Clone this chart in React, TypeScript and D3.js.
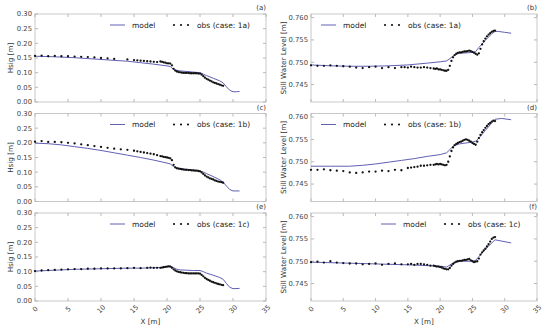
import React, { useEffect, useRef } from 'react';
import * as d3 from 'd3';

const X_TICKS = [0, 5, 10, 15, 20, 25, 30, 35];
const HSIG_TICKS = [0, 0.05, 0.1, 0.15, 0.2, 0.25, 0.3];
const SWL_TICKS = [0.745, 0.75, 0.755, 0.76];
const CASES = ['1a', '1b', '1c'];
const PANEL_TAGS = [['(a)', '(b)'], ['(c)', '(d)'], ['(e)', '(f)']];

// dense gauge section shared by every obs series
const DENSE_X = [19, 19.25, 19.5, 19.75, 20, 20.25, 20.5, 20.75, 21, 21.25, 21.5, 21.75, 22, 22.25, 22.5, 22.75, 23, 23.25, 23.5, 23.75, 24, 24.25, 24.5, 24.75, 25, 25.25, 25.5, 25.75, 26, 26.25, 26.5, 26.75, 27, 27.25, 27.5, 27.75, 28, 28.25, 28.5];

// ---- Hsig ----
const MODEL_HSIG_1A: [number, number][] = [[0, 0.156], [2, 0.155], [4, 0.153], [6, 0.151], [8, 0.148], [10, 0.145], [12, 0.142], [14, 0.139], [16, 0.134], [18, 0.129], [20, 0.123], [20.5, 0.121], [21, 0.111], [21.5, 0.108], [22, 0.106], [23, 0.104], [24, 0.102], [25, 0.1], [25.5, 0.095], [26, 0.09], [27, 0.081], [28, 0.072], [28.5, 0.065], [29, 0.052], [29.5, 0.04], [30, 0.035], [30.5, 0.035], [31, 0.036]];
const OBS_HSIG_1A: [number, number][] = [[0, 0.157], [1, 0.158], [2, 0.156], [3, 0.157], [4, 0.156], [5, 0.156], [6, 0.155], [7, 0.154], [8, 0.153], [9, 0.152], [10, 0.15], [11, 0.149], [12, 0.147], [14, 0.145], [15, 0.143], [15.5, 0.142], [16, 0.141], [16.5, 0.14], [17, 0.139], [17.5, 0.138], [18, 0.137], [18.5, 0.136]];
const DENSE_HSIG_1A = [0.138, 0.137, 0.135, 0.134, 0.132, 0.132, 0.131, 0.125, 0.113, 0.107, 0.104, 0.102, 0.101, 0.1, 0.099, 0.099, 0.099, 0.099, 0.098, 0.098, 0.098, 0.098, 0.098, 0.097, 0.097, 0.093, 0.088, 0.083, 0.079, 0.076, 0.073, 0.07, 0.067, 0.065, 0.063, 0.061, 0.059, 0.057, 0.055];

const MODEL_HSIG_1B: [number, number][] = [[0, 0.199], [2, 0.197], [4, 0.193], [6, 0.187], [8, 0.181], [10, 0.174], [12, 0.166], [14, 0.158], [16, 0.15], [18, 0.141], [20, 0.131], [20.5, 0.128], [21, 0.119], [21.5, 0.115], [22, 0.112], [23, 0.11], [24, 0.107], [25, 0.104], [25.5, 0.1], [26, 0.095], [27, 0.085], [28, 0.074], [28.5, 0.066], [29, 0.053], [29.5, 0.041], [30, 0.036], [31, 0.036]];
const OBS_HSIG_1B: [number, number][] = [[0, 0.204], [1, 0.206], [2, 0.203], [3, 0.203], [4, 0.202], [5, 0.2], [6, 0.198], [7, 0.195], [8, 0.192], [9, 0.189], [10, 0.186], [11, 0.183], [12, 0.18], [13, 0.178], [14, 0.176], [15, 0.173], [15.5, 0.171], [16, 0.169], [16.5, 0.167], [17, 0.165], [17.5, 0.163], [18, 0.161], [18.5, 0.158]];
const DENSE_HSIG_1B = [0.155, 0.154, 0.152, 0.151, 0.15, 0.149, 0.147, 0.141, 0.125, 0.116, 0.113, 0.112, 0.111, 0.11, 0.109, 0.108, 0.108, 0.107, 0.107, 0.106, 0.106, 0.105, 0.105, 0.104, 0.103, 0.099, 0.094, 0.089, 0.085, 0.082, 0.079, 0.077, 0.075, 0.072, 0.07, 0.068, 0.067, 0.066, 0.064];

const MODEL_HSIG_1C: [number, number][] = [[0, 0.102], [2, 0.104], [4, 0.106], [6, 0.108], [8, 0.109], [10, 0.11], [12, 0.111], [14, 0.112], [16, 0.112], [18, 0.113], [19, 0.114], [20, 0.118], [20.5, 0.119], [21, 0.114], [21.5, 0.108], [22, 0.106], [23, 0.105], [24, 0.104], [25, 0.104], [25.5, 0.1], [26, 0.095], [27, 0.088], [28, 0.08], [28.5, 0.074], [29, 0.06], [29.5, 0.047], [30, 0.042], [31, 0.043]];
const OBS_HSIG_1C: [number, number][] = [[0, 0.102], [1, 0.104], [2, 0.105], [3, 0.106], [4, 0.107], [5, 0.108], [6, 0.109], [7, 0.109], [8, 0.11], [9, 0.11], [10, 0.111], [11, 0.111], [12, 0.111], [13, 0.111], [14, 0.112], [15, 0.113], [16, 0.112], [17, 0.113], [17.5, 0.114], [18, 0.113], [18.5, 0.113]];
const DENSE_HSIG_1C = [0.113, 0.114, 0.115, 0.116, 0.117, 0.118, 0.117, 0.113, 0.108, 0.104, 0.101, 0.099, 0.098, 0.097, 0.096, 0.095, 0.095, 0.094, 0.094, 0.094, 0.094, 0.094, 0.094, 0.094, 0.093, 0.089, 0.084, 0.079, 0.075, 0.072, 0.069, 0.066, 0.064, 0.062, 0.06, 0.058, 0.057, 0.055, 0.054];

// ---- Still water level ----
const MODEL_SWL_1A: [number, number][] = [[0, 0.7494], [3, 0.7492], [6, 0.7491], [9, 0.7491], [12, 0.7492], [15, 0.7494], [18, 0.7498], [20, 0.7501], [21, 0.7503], [21.5, 0.7508], [22, 0.7514], [22.5, 0.7518], [23, 0.752], [24, 0.7521], [25, 0.7522], [25.5, 0.7524], [26, 0.7533], [27, 0.7549], [28, 0.7564], [28.5, 0.7569], [29, 0.7569], [30, 0.7567], [31, 0.7565]];
const OBS_SWL_1A: [number, number][] = [[0, 0.7493], [1, 0.7492], [2, 0.7492], [3, 0.7493], [4, 0.7492], [5, 0.7491], [6, 0.749], [7, 0.7488], [8, 0.7487], [9, 0.7489], [10, 0.749], [11, 0.7487], [12, 0.7489], [13, 0.7487], [14, 0.7489], [14.5, 0.7489], [15, 0.7488], [15.5, 0.749], [16, 0.7489], [16.5, 0.7488], [17, 0.7488], [17.5, 0.7489], [18, 0.7488], [18.5, 0.7487]];
const DENSE_SWL_1A = [0.7486, 0.7485, 0.7486, 0.7484, 0.7484, 0.7483, 0.7482, 0.7481, 0.7481, 0.7483, 0.7492, 0.7503, 0.7511, 0.7516, 0.7519, 0.7521, 0.7522, 0.7522, 0.7523, 0.7524, 0.7524, 0.7525, 0.7526, 0.7525, 0.7523, 0.7521, 0.7519, 0.7517, 0.752, 0.753, 0.754, 0.7547, 0.7553, 0.7558, 0.7562, 0.7565, 0.7568, 0.757, 0.7571];

const MODEL_SWL_1B: [number, number][] = [[0, 0.749], [3, 0.749], [6, 0.749], [8, 0.7492], [10, 0.7495], [12, 0.7499], [14, 0.7503], [16, 0.7507], [18, 0.7512], [20, 0.7516], [21, 0.752], [21.5, 0.7527], [22, 0.7535], [23, 0.754], [24, 0.7542], [25, 0.7544], [25.5, 0.7546], [26, 0.7553], [27, 0.757], [28, 0.7587], [28.5, 0.7595], [29.5, 0.7597], [31, 0.7594]];
const OBS_SWL_1B: [number, number][] = [[0, 0.7482], [1, 0.7482], [2, 0.7483], [3, 0.7481], [4, 0.748], [5, 0.7479], [6, 0.7476], [7, 0.7475], [8, 0.7476], [9, 0.7478], [10, 0.7478], [11, 0.748], [12, 0.7479], [13, 0.7482], [14, 0.7481], [15, 0.7486], [15.5, 0.7487], [16, 0.7488], [16.5, 0.7489], [17, 0.7491], [17.5, 0.7491], [18, 0.7492], [18.5, 0.7493]];
const DENSE_SWL_1B = [0.7493, 0.7494, 0.7495, 0.7494, 0.7495, 0.7494, 0.7493, 0.7492, 0.7493, 0.75, 0.7512, 0.7524, 0.7532, 0.7537, 0.754, 0.7542, 0.7544, 0.7545, 0.7547, 0.7549, 0.755, 0.7549, 0.7547, 0.7545, 0.7542, 0.754, 0.7538, 0.7545, 0.7553, 0.756, 0.7566, 0.7571, 0.7576, 0.758, 0.7584, 0.7587, 0.759, 0.7592, 0.7591];

const MODEL_SWL_1C: [number, number][] = [[0, 0.7498], [5, 0.7496], [10, 0.7494], [15, 0.7492], [20, 0.7489], [21, 0.7487], [22, 0.7496], [23, 0.75], [25, 0.75], [25.5, 0.7502], [27, 0.7527], [28.5, 0.7548], [31, 0.7541]];
const OBS_SWL_1C: [number, number][] = [[0, 0.7498], [1, 0.7499], [2, 0.7497], [3, 0.75], [4, 0.7497], [5, 0.7496], [6, 0.7495], [7, 0.7495], [8, 0.7493], [9, 0.7494], [10, 0.7495], [11, 0.7492], [12, 0.7494], [13, 0.7495], [14, 0.7493], [15, 0.7493], [15.5, 0.7494], [16, 0.7492], [16.5, 0.7494], [17, 0.7494], [17.5, 0.7493], [18, 0.7492], [18.5, 0.749]];
const DENSE_SWL_1C = [0.749, 0.7489, 0.7488, 0.7488, 0.7487, 0.7486, 0.7484, 0.7483, 0.7482, 0.7482, 0.7485, 0.749, 0.7494, 0.7497, 0.7499, 0.75, 0.7501, 0.7501, 0.7502, 0.7503, 0.7503, 0.7504, 0.7505, 0.7502, 0.75, 0.7498, 0.7499, 0.75, 0.7506, 0.7515, 0.752, 0.7524, 0.7528, 0.7533, 0.7538, 0.7544, 0.755, 0.7553, 0.7554];

const MODEL_COLOR = '#6060b4';
const FONT = 'DejaVu Sans, sans-serif';

export default function App() {
  const svgRef = useRef<SVGSVGElement>(null);

  useEffect(() => {
    const width = 550;
    const height = 329;
    const svg = d3.select(svgRef.current).attr('width', width).attr('height', height);
    svg.selectAll('*').remove();
    svg.append('rect').attr('width', width).attr('height', height).attr('fill', '#fff');

    const rowTops = [14, 113.5, 213];
    const rowH = 88;
    const cols = [
      { left: 35, right: 266 },
      { left: 311, right: 537 },
    ];

    const hsig = [
      [MODEL_HSIG_1A, OBS_HSIG_1A, DENSE_HSIG_1A],
      [MODEL_HSIG_1B, OBS_HSIG_1B, DENSE_HSIG_1B],
      [MODEL_HSIG_1C, OBS_HSIG_1C, DENSE_HSIG_1C],
    ];
    const swl = [
      [MODEL_SWL_1A, OBS_SWL_1A, DENSE_SWL_1A],
      [MODEL_SWL_1B, OBS_SWL_1B, DENSE_SWL_1B],
      [MODEL_SWL_1C, OBS_SWL_1C, DENSE_SWL_1C],
    ];

    for (let row = 0; row < 3; row++) {
      for (let col = 0; col < 2; col++) {
        const { left, right } = cols[col];
        const top = rowTops[row];
        const bottom = top + rowH;
        const x = d3.scaleLinear().domain([0, 35]).range([left, right]);
        const y = col === 0
          ? d3.scaleLinear().domain([0, 0.3]).range([bottom, top])
          : d3.scaleLinear().domain([0.7411, 0.7608]).range([bottom, top]);
        const yTicks = col === 0 ? HSIG_TICKS : SWL_TICKS;
        const fmt = col === 0 ? d3.format('.2f') : d3.format('.3f');
        const [model, sparse, dense] = (col === 0 ? hsig : swl)[row] as [[number, number][], [number, number][], number[]];

        const g = svg.append('g');

        // ticks pointing inwards on all four sides
        const tickColor = '#999';
        X_TICKS.forEach(t => {
          g.append('line').attr('x1', x(t)).attr('x2', x(t)).attr('y1', bottom).attr('y2', bottom - 3).attr('stroke', tickColor).attr('stroke-width', 0.7);
          g.append('line').attr('x1', x(t)).attr('x2', x(t)).attr('y1', top).attr('y2', top + 3).attr('stroke', tickColor).attr('stroke-width', 0.7);
        });
        yTicks.forEach(t => {
          g.append('line').attr('x1', left).attr('x2', left + 3).attr('y1', y(t)).attr('y2', y(t)).attr('stroke', tickColor).attr('stroke-width', 0.7);
          g.append('line').attr('x1', right).attr('x2', right - 3).attr('y1', y(t)).attr('y2', y(t)).attr('stroke', tickColor).attr('stroke-width', 0.7);
          g.append('text')
            .attr('x', left - 3).attr('y', y(t)).attr('dy', '0.35em')
            .attr('text-anchor', 'end')
            .style('font-family', FONT).style('font-size', '6.8px').attr('fill', '#444')
            .text(fmt(t));
        });

        g.append('rect')
          .attr('x', left).attr('y', top).attr('width', right - left).attr('height', rowH)
          .attr('fill', 'none').attr('stroke', '#bbb').attr('stroke-width', 0.8);

        if (row === 2) {
          X_TICKS.forEach(t => {
            g.append('text')
              .attr('transform', `translate(${x(t)},${bottom + 8}) rotate(-45)`)
              .attr('text-anchor', 'middle').attr('dy', '0.35em')
              .style('font-family', FONT).style('font-size', '6.8px').attr('fill', '#444')
              .text(String(t));
          });
          g.append('text')
            .attr('x', (left + right) / 2).attr('y', 324)
            .attr('text-anchor', 'middle')
            .style('font-family', FONT).style('font-size', '7.2px').attr('fill', '#333')
            .text('X [m]');
        }

        // y label
        const labelX = col === 0 ? 10 : 283;
        g.append('text')
          .attr('transform', `translate(${labelX},${(top + bottom) / 2}) rotate(-90)`)
          .attr('text-anchor', 'middle').attr('dy', '0.35em')
          .style('font-family', FONT).style('font-size', '7.2px').attr('fill', '#333')
          .text(col === 0 ? 'Hsig [m]' : 'Still Water Level [m]');

        // panel tag
        g.append('text')
          .attr('x', right).attr('y', top - 4)
          .attr('text-anchor', 'end')
          .style('font-family', FONT).style('font-size', '7px').attr('fill', '#333')
          .text(PANEL_TAGS[row][col]);

        // model line
        const line = d3.line<[number, number]>().x(d => x(d[0])).y(d => y(d[1]));
        g.append('path')
          .datum(model)
          .attr('d', line)
          .attr('fill', 'none').attr('stroke', MODEL_COLOR).attr('stroke-width', 1);

        // observations
        const obs: [number, number][] = sparse.concat(DENSE_X.map((xv, i) => [xv, dense[i]] as [number, number]));
        g.selectAll('circle.obs')
          .data(obs)
          .enter()
          .append('circle')
          .attr('cx', d => x(d[0])).attr('cy', d => y(d[1]))
          .attr('r', 1.15).attr('fill', '#111');

        // legend
        const legendLeft = col === 1 && row < 2 ? left + 10 : right - 156;
        const ly = top + 11;
        g.append('line').attr('x1', legendLeft).attr('x2', legendLeft + 15).attr('y1', ly).attr('y2', ly).attr('stroke', MODEL_COLOR).attr('stroke-width', 1);
        g.append('text').attr('x', legendLeft + 22).attr('y', ly).attr('dy', '0.35em')
          .style('font-family', FONT).style('font-size', '7.5px').attr('fill', '#222').text('model');
        [64, 71, 78].forEach(o => {
          g.append('circle').attr('cx', legendLeft + o).attr('cy', ly).attr('r', 1.1).attr('fill', '#111');
        });
        g.append('text').attr('x', legendLeft + 87).attr('y', ly).attr('dy', '0.35em')
          .style('font-family', FONT).style('font-size', '7.5px').attr('fill', '#222').text(`obs (case: ${CASES[row]})`);
      }
    }
  }, []);

  return (
    <div style={{ position: 'absolute', left: 0, top: 0 }}>
      <svg ref={svgRef} style={{ display: 'block' }} />
    </div>
  );
}
